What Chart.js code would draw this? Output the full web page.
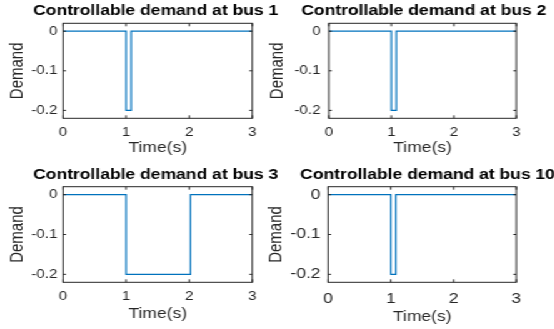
<!DOCTYPE html>
<html>
<head>
<meta charset="utf-8">
<script src="https://cdn.jsdelivr.net/npm/chart.js@4.4.1/dist/chart.umd.min.js"></script>
<style>
  html, body { margin: 0; padding: 0; background: #fff; overflow: hidden; width: 554px; height: 329px; }
  #wrap { position: absolute; left: 0; top: 0; width: 443.2px; height: 329px; transform: scaleX(1.25); transform-origin: 0 0; }
  canvas { position: absolute; }
</style>
</head>
<body>
<div id="wrap">
  <canvas id="c1"></canvas>
  <canvas id="c2"></canvas>
  <canvas id="c3"></canvas>
  <canvas id="c4"></canvas>
</div>
<script>
// ---------- data ----------
const titles = ['Controllable demand at bus 1', 'Controllable demand at bus 2', 'Controllable demand at bus 3', 'Controllable demand at bus 10'];
const xAxisTitle = 'Time(s)';
const yAxisTitle = 'Demand';
const timeTicks = [0, 1, 2, 3];
const timeTickLabels = ['0', '1', '2', '3'];
const demandTicks = [-0.2, -0.1, 0];
const demandTickLabels = ['-0.2', '-0.1', '0'];
const bus1Time = [0, 1, 1, 1.08, 1.08, 3];
const bus1Demand = [0, 0, -0.2, -0.2, 0, 0];
const bus2Time = [0, 1, 1, 1.08, 1.08, 3];
const bus2Demand = [0, 0, -0.2, -0.2, 0, 0];
const bus3Time = [0, 1, 1, 2.02, 2.02, 3];
const bus3Demand = [0, 0, -0.2, -0.2, 0, 0];
const bus10Time = [0, 1, 1, 1.08, 1.08, 3];
const bus10Demand = [0, 0, -0.2, -0.2, 0, 0];
const timeRange = [0, 3];
const demandRange = [-0.22, 0.02];

// ---------- layout (logical px, before horizontal stretch) ----------
const layouts = [
  {id:'c1', left:0,   top:0,   w:249, h:165, areaLeft:50.4, rightPad:47.2, tTop:2.6, tBot:3.9, areaBottom:118.3, xTickPad:7.0, xTitlePad:8.2, yTickPad:4.6, yTitlePad:4.4, tickFont:12},
  {id:'c2', left:210, top:0,   w:258, h:165, areaLeft:53.0, rightPad:55,   tTop:2.6, tBot:3.9, areaBottom:118.3, xTickPad:7.0, xTitlePad:8.2, yTickPad:6.7, yTitlePad:2.8, tickFont:12},
  {id:'c3', left:0,   top:165, w:249, h:164, areaLeft:50.4, rightPad:47.2, tTop:1.6, tBot:3.3, areaBottom:117.3, xTickPad:7.3, xTitlePad:6.3, yTickPad:4.6, yTitlePad:4.4, tickFont:12},
  {id:'c4', left:210, top:165, w:264, h:164, areaLeft:52.4, rightPad:61,   tTop:1.6, tBot:3.3, areaBottom:117.3, xTickPad:8.0, xTitlePad:3.6, yTickPad:6.0, yTitlePad:1.8, tickFont:14}
];
const series = [[bus1Time, bus1Demand], [bus2Time, bus2Demand], [bus3Time, bus3Demand], [bus10Time, bus10Demand]];

Chart.defaults.font.family = "'Liberation Sans', Arial, Helvetica, sans-serif";
Chart.defaults.color = '#262626';

const boxPlugin = {
  id: 'matlabBox',
  afterDatasetsDraw(chart) {
    const {ctx, chartArea: a, scales} = chart;
    ctx.save();
    ctx.strokeStyle = '#262626';
    ctx.lineWidth = 1;
    ctx.beginPath();
    const tl = 3, tlx = 2.4;
    scales.x.ticks.forEach(t => {
      const px = scales.x.getPixelForValue(t.value);
      ctx.moveTo(px, a.bottom); ctx.lineTo(px, a.bottom - tl);
      ctx.moveTo(px, a.top); ctx.lineTo(px, a.top + tl);
    });
    scales.y.ticks.forEach(t => {
      const py = scales.y.getPixelForValue(t.value);
      ctx.moveTo(a.left, py); ctx.lineTo(a.left + tlx, py);
      ctx.moveTo(a.right, py); ctx.lineTo(a.right - tlx, py);
    });
    ctx.stroke();
    ctx.strokeRect(a.left, a.top, a.right - a.left, a.bottom - a.top);
    ctx.restore();
  }
};

layouts.forEach((L, i) => {
  const cv = document.getElementById(L.id);
  cv.width = L.w; cv.height = L.h;
  cv.style.left = L.left + 'px'; cv.style.top = L.top + 'px';
  cv.style.width = L.w + 'px'; cv.style.height = L.h + 'px';
  const [xs, ys] = series[i];
  const pts = xs.map((x, k) => ({x: x, y: ys[k]}));
  new Chart(cv, {
    type: 'line',
    data: { datasets: [{ data: pts, borderColor: '#0072BD', borderWidth: 1.2, pointRadius: 0, tension: 0, fill: false }] },
    plugins: [boxPlugin],
    options: {
      responsive: false, animation: false, devicePixelRatio: 1,
      layout: { padding: 0 },
      plugins: {
        legend: { display: false }, tooltip: { enabled: false },
        title: { display: true, text: titles[i], color: '#000', font: { size: 14, weight: 'bold' }, padding: { top: L.tTop, bottom: L.tBot } }
      },
      scales: {
        x: {
          type: 'linear', min: timeRange[0], max: timeRange[1],
          grid: { display: false, drawTicks: false }, border: { display: false },
          afterBuildTicks: s => { s.ticks = timeTicks.map(v => ({value: v})); },
          afterFit: s => { s.height = L.h - L.areaBottom; },
          ticks: { padding: L.xTickPad, font: { size: L.tickFont }, maxRotation: 0, callback: (v, k) => timeTickLabels[k] },
          title: { display: true, text: xAxisTitle, font: { size: 14 }, padding: { top: 0, bottom: L.xTitlePad } }
        },
        y: {
          type: 'linear', min: demandRange[0], max: demandRange[1],
          grid: { display: false, drawTicks: false }, border: { display: false },
          afterBuildTicks: s => { s.ticks = demandTicks.map(v => ({value: v})); },
          afterFit: s => { s.width = L.areaLeft; },
          ticks: { padding: L.yTickPad, font: { size: L.tickFont }, callback: (v, k) => demandTickLabels[k] },
          title: { display: true, text: yAxisTitle, font: { size: 15 }, padding: { top: L.yTitlePad, bottom: 0 } }
        },
        yRight: {
          type: 'linear', position: 'right', min: demandRange[0], max: demandRange[1],
          grid: { display: false, drawTicks: false }, border: { display: false },
          ticks: { display: false },
          afterFit: s => { s.width = L.rightPad; }
        }
      }
    }
  });
});
</script>
</body>
</html>
